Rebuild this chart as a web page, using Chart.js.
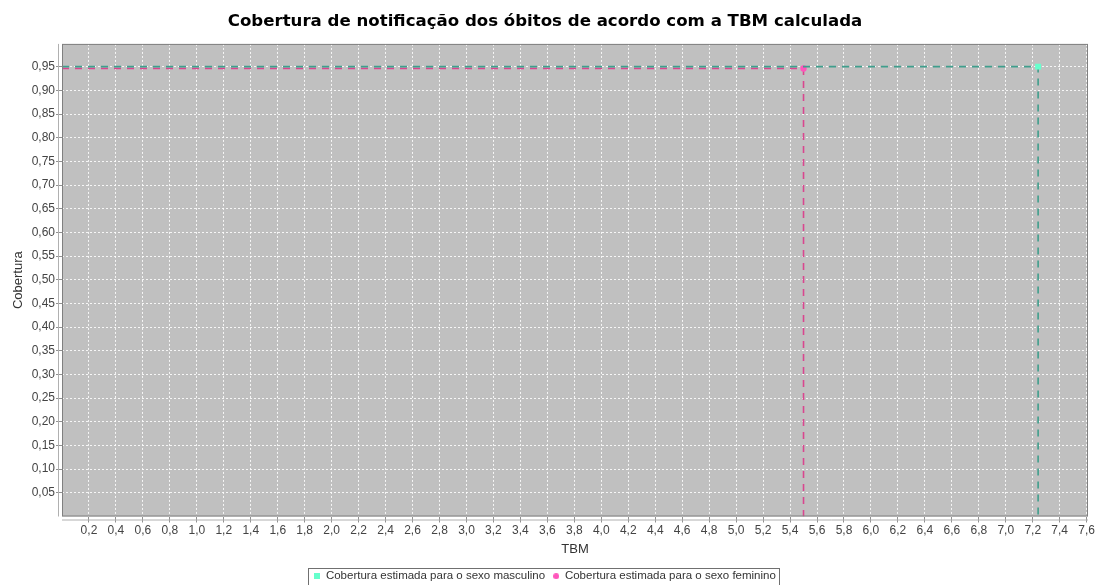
<!DOCTYPE html>
<html>
<head>
<meta charset="utf-8">
<script src="https://cdn.jsdelivr.net/npm/chart.js@4.4.1/dist/chart.umd.min.js"></script>
<style>
  html, body { margin: 0; padding: 0; background: #fff; }
  #wrap { width: 1096px; height: 585px; }
</style>
</head>
<body>
<div id="wrap"><canvas id="chart" width="1096" height="585"></canvas></div>
<script>
// series: each point, its dashed guide runs from the y axis to the point and down to the x axis
const seriesNames = [
    "Cobertura estimada para o sexo masculino",
    "Cobertura estimada para o sexo feminino"
];
const tbmValues = [7.24, 5.5];
const coberturaValues = [0.95, 0.946];
const lineColors = ["#3f9e8c", "#d9468f"];
const markerColors = ["#66ffcc", "#ff55bb"];
const markerStyles = ["rect", "circle"];
const markerRadius = [4.2, 3.2];

// tick labels
const xTicks = [0.2, 0.4, 0.6, 0.8, 1.0, 1.2, 1.4, 1.6, 1.8, 2.0, 2.2, 2.4, 2.6, 2.8, 3.0, 3.2, 3.4, 3.6, 3.8,
    4.0, 4.2, 4.4, 4.6, 4.8, 5.0, 5.2, 5.4, 5.6, 5.8, 6.0, 6.2, 6.4, 6.6, 6.8, 7.0, 7.2, 7.4, 7.6];
const yTicks = [0.05, 0.10, 0.15, 0.20, 0.25, 0.30, 0.35, 0.40, 0.45, 0.50, 0.55, 0.60, 0.65, 0.70, 0.75,
    0.80, 0.85, 0.90, 0.95];

const xMax = 7.61;
const yMax = 0.998;

const fmt = (v, d) => v.toFixed(d).replace(".", ",");

// small legend marker images (square / circle, 6px)
function legendMarker(style, color) {
    const c = document.createElement("canvas");
    c.width = 6; c.height = 6;
    const g = c.getContext("2d");
    g.fillStyle = color;
    if (style === "rect") {
        g.fillRect(0, 0, 6, 6);
    } else {
        g.beginPath();
        g.arc(3, 3, 3, 0, Math.PI * 2);
        g.fill();
    }
    return c;
}

const datasets = seriesNames.map((name, i) => ({
    label: name,
    data: [
        { x: 0, y: coberturaValues[i] },
        { x: tbmValues[i], y: coberturaValues[i] },
        { x: tbmValues[i], y: 0 }
    ],
    borderColor: lineColors[i],
    borderWidth: 1.6,
    borderDash: [7, 6],
    pointRadius: [0, markerRadius[i], 0],
    pointHoverRadius: 0,
    pointBorderWidth: 0,
    pointStyle: markerStyles[i],
    pointBackgroundColor: markerColors[i],
    pointBorderColor: markerColors[i],
    fill: false,
    tension: 0
}));

const plotBackground = {
    id: "plotBackground",
    beforeDraw(chart) {
        const { ctx, chartArea: a } = chart;
        ctx.save();
        ctx.fillStyle = "#c0c0c0";
        ctx.fillRect(a.left, a.top, a.right - a.left, a.bottom - a.top);
        ctx.restore();
    },
    afterDraw(chart) {
        const { ctx, chartArea: a } = chart;
        ctx.save();
        ctx.strokeStyle = "#808080";
        ctx.lineWidth = 1;
        ctx.strokeRect(a.left + 0.5, a.top + 0.5, a.right - a.left - 1, a.bottom - a.top - 1);
        // offset axis lines
        ctx.strokeStyle = "#b0b0b0";
        ctx.beginPath();
        ctx.moveTo(a.left - 3.5, a.top);
        ctx.lineTo(a.left - 3.5, a.bottom);
        ctx.moveTo(a.left, a.bottom + 3.5);
        ctx.lineTo(a.right, a.bottom + 3.5);
        ctx.stroke();
        // legend frame
        const boxes = chart.legend.legendHitBoxes;
        if (boxes && boxes.length) {
            const first = boxes[0], last = boxes[boxes.length - 1];
            const l = first.left - 6, r = last.left + last.width + 3;
            const t = first.top - 3, h = first.height + 5;
            ctx.strokeStyle = "#707070";
            ctx.strokeRect(Math.round(l) + 0.5, Math.round(t) + 0.5, Math.round(r - l), Math.round(h));
        }
        ctx.restore();
    }
};

const useTicks = (values) => (scale) => {
    scale.ticks = values.map(v => ({ value: v }));
};

new Chart(document.getElementById("chart").getContext("2d"), {
    type: "line",
    data: { datasets: datasets },
    plugins: [plotBackground],
    options: {
        responsive: false,
        animation: false,
        layout: { padding: { left: 0, right: 6, top: 0, bottom: -7 } },
        scales: {
            x: {
                type: "linear",
                min: 0,
                max: xMax,
                afterBuildTicks: useTicks(xTicks),
                afterFit: (s) => { s.height = 46; },
                ticks: {
                    autoSkip: false,
                    maxRotation: 0,
                    padding: 1,
                    color: "#444",
                    font: { family: "Liberation Sans", size: 12 },
                    callback: (v) => fmt(v, 1)
                },
                grid: {
                    color: "rgba(255,255,255,0.85)",
                    tickColor: "#909090",
                    tickLength: 6
                },
                border: { display: false, dash: [2, 2] },
                title: {
                    display: true,
                    text: "TBM",
                    color: "#333",
                    font: { family: "Liberation Sans", size: 13 },
                    padding: { top: 0, bottom: 5 }
                }
            },
            y: {
                type: "linear",
                min: 0,
                max: yMax,
                afterBuildTicks: useTicks(yTicks),
                afterFit: (s) => { s.width = 62; },
                ticks: {
                    autoSkip: false,
                    padding: 1,
                    color: "#444",
                    font: { family: "Liberation Sans", size: 12 },
                    callback: (v) => fmt(v, 2)
                },
                grid: {
                    color: "rgba(255,255,255,0.85)",
                    tickColor: "#909090",
                    tickLength: 6
                },
                border: { display: false, dash: [2, 2] },
                title: {
                    display: true,
                    text: "Cobertura",
                    color: "#333",
                    font: { family: "Liberation Sans", size: 13 },
                    padding: { top: 11, bottom: 0 }
                }
            }
        },
        plugins: {
            title: {
                display: true,
                text: "Cobertura de notificação dos óbitos de acordo com a TBM calculada",
                color: "#000",
                font: { family: "DejaVu Sans", size: 16.6, weight: "bold" },
                padding: { top: 12, bottom: 12 }
            },
            legend: {
                position: "bottom",
                labels: {
                    usePointStyle: true,
                    boxWidth: 6,
                    boxHeight: 6,
                    padding: 8,
                    color: "#333",
                    font: { family: "Liberation Sans", size: 11.5 },
                    generateLabels: (chart) => chart.data.datasets.map((d, i) => ({
                        text: d.label,
                        fillStyle: markerColors[i],
                        strokeStyle: markerColors[i],
                        lineWidth: 0,
                        pointStyle: legendMarker(markerStyles[i], markerColors[i]),
                        datasetIndex: i,
                        fontColor: "#333"
                    }))
                }
            },
            tooltip: { enabled: false }
        }
    }
});
</script>
</body>
</html>
